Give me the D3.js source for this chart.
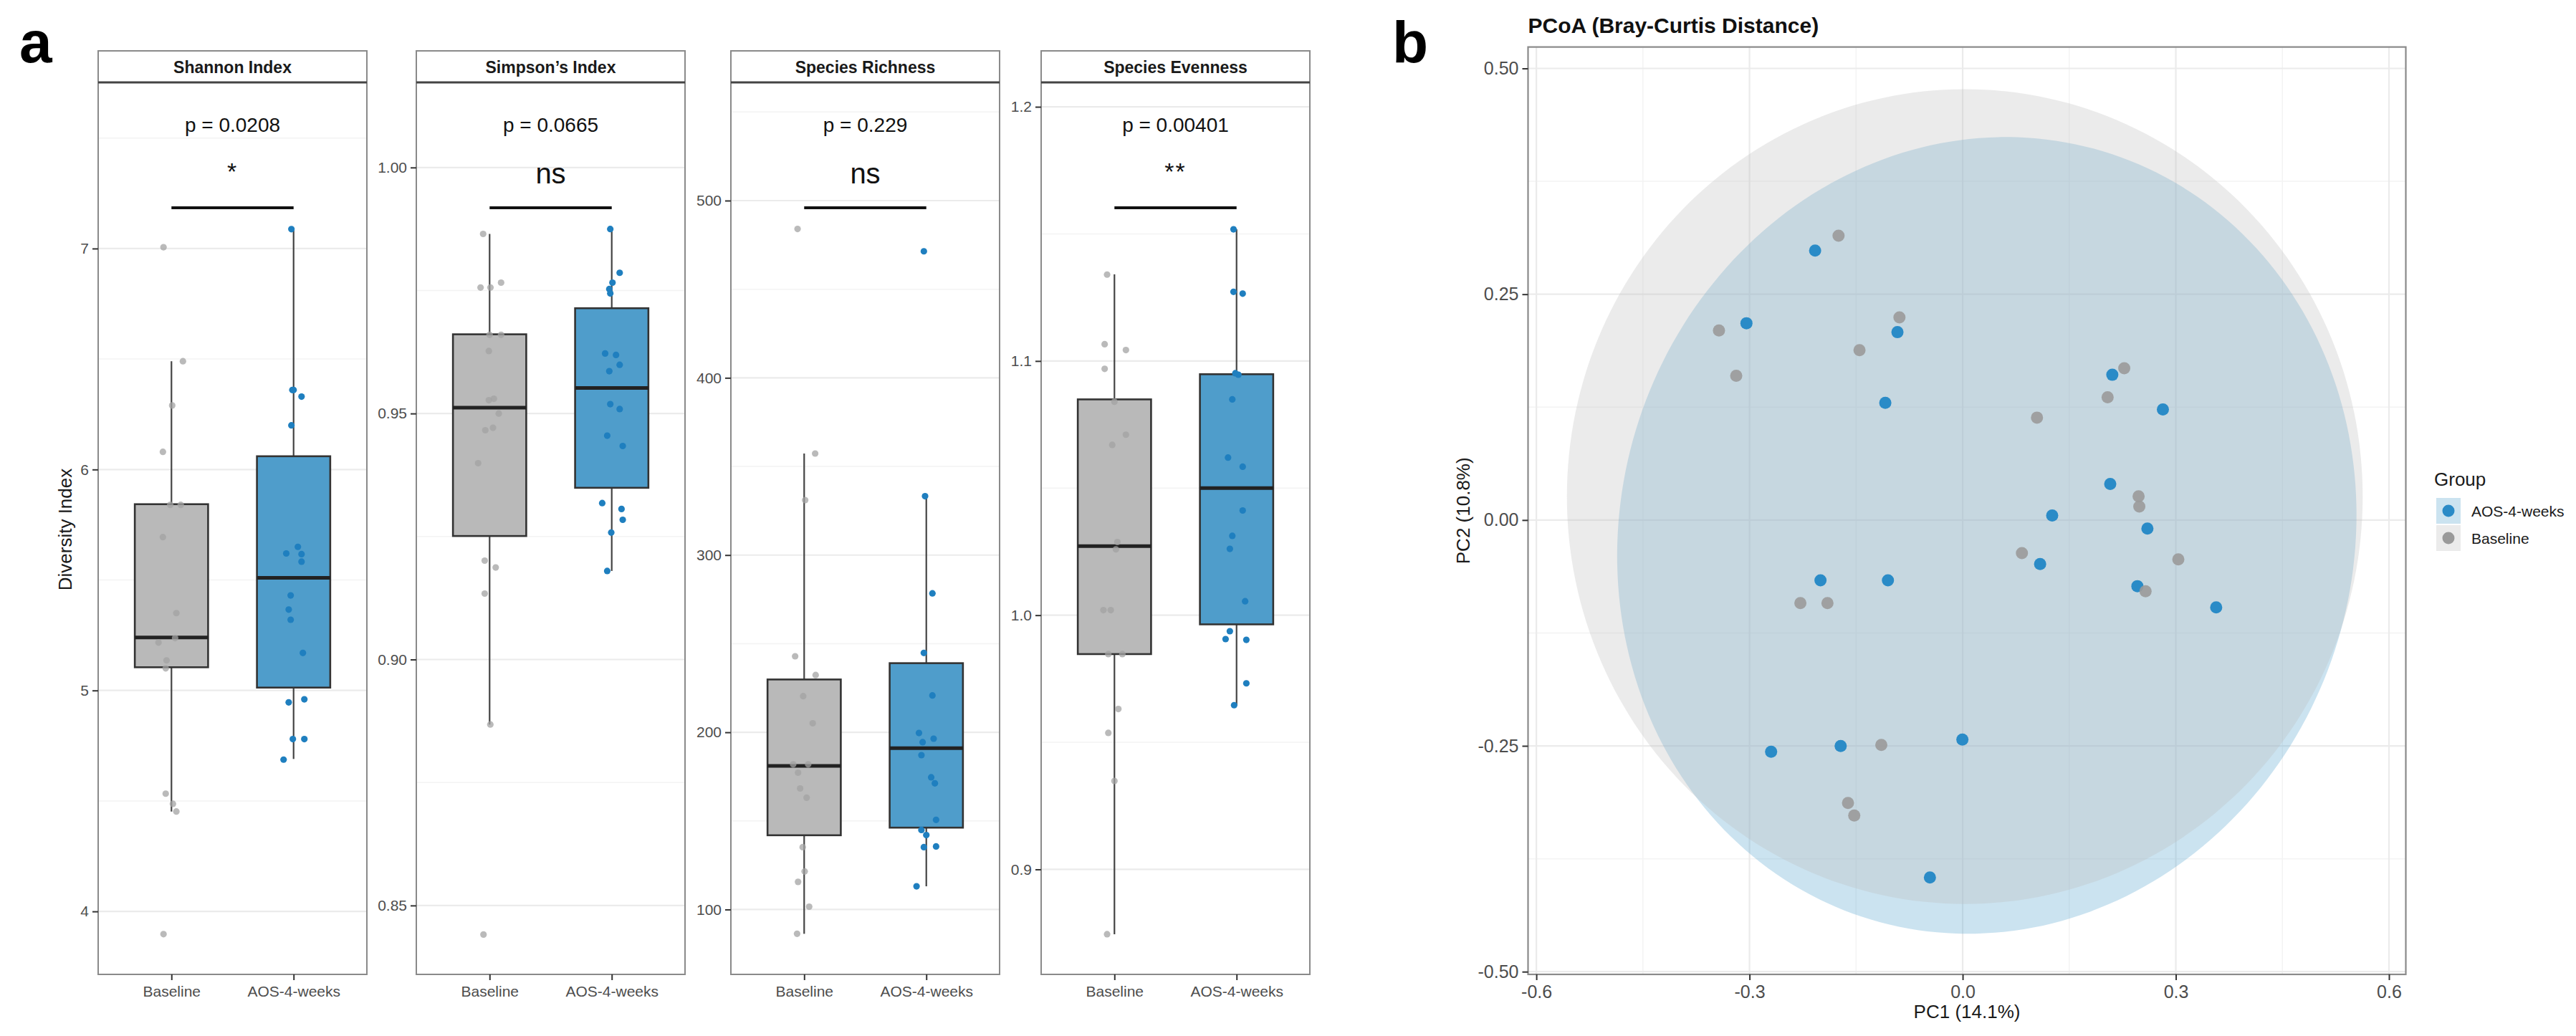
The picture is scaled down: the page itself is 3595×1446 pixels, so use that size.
<!DOCTYPE html>
<html>
<head>
<meta charset="utf-8">
<title>Alpha diversity and PCoA</title>
<script src="https://d3js.org/d3.v7.min.js"></script>
<style>
  body { margin: 0; background: #fff; }
  text { font-family: "Liberation Sans", Arial, sans-serif; }
</style>
</head>
<body>
<div id="chart"></div>
<script>
const width = 3595, height = 1446;

// ---------- panel a data ----------
const groups = ["Baseline", "AOS-4-weeks"];
const metrics = ["Shannon Index", "Simpson\u2019s Index", "Species Richness", "Species Evenness"];
const pLabels = ["p = 0.0208", "p = 0.0665", "p = 0.229", "p = 0.00401"];
const sigLabels = ["*", "ns", "ns", "**"];
const yDomains = [[3.715, 7.752], [0.836, 1.0173], [63.4, 566.7], [0.8587, 1.2096]];
const yTicks = [[4, 5, 6, 7], [0.85, 0.90, 0.95, 1.00], [100, 200, 300, 400, 500], [0.9, 1.0, 1.1, 1.2]];
const yMinor = [[4.5, 5.5, 6.5, 7.5], [0.875, 0.925, 0.975], [150, 250, 350, 450, 550], [0.95, 1.05, 1.15]];
const yDecimals = [0, 2, 0, 1];

// box stats: [lower whisker, q1, median, q3, upper whisker]
const boxBaseline = [
  [4.452, 5.105, 5.24, 5.843, 6.49],
  [0.8868, 0.9251, 0.9512, 0.9661, 0.9865],
  [86.3, 141.9, 181, 229.8, 357.3],
  [0.8745, 0.9847, 1.0272, 1.0849, 1.1341]
];
const boxAOS = [
  [4.69, 5.013, 5.51, 6.06, 7.088],
  [0.918, 0.9349, 0.9552, 0.9714, 0.9875],
  [113.1, 146.2, 191, 239, 333.2],
  [0.9645, 0.9964, 1.05, 1.0948, 1.1518]
];

// sample values and jitter (in category units)
const shannonBase = [7.006, 6.49, 6.29, 6.08, 5.84, 5.84, 5.694, 5.35, 5.237, 5.217, 5.136, 5.10, 4.533, 4.487, 4.452, 3.897];
const shannonBaseJit = [-0.065, 0.094, 0.006, -0.07, 0.076, -0.01, -0.07, 0.04, 0.03, -0.106, -0.04, -0.047, -0.047, 0.012, 0.04, -0.065];
const shannonAOS = [7.088, 6.36, 6.36, 6.33, 6.2, 5.62, 5.65, 5.617, 5.583, 5.43, 5.366, 5.32, 5.17, 4.946, 4.96, 4.78, 4.78, 4.687];
const shannonAOSJit = [-0.018, -0.01, 0, 0.065, -0.018, -0.06, 0.035, 0.065, 0.065, -0.024, -0.04, -0.024, 0.076, -0.04, 0.088, -0.006, 0.088, -0.082];

const simpsonBase = [0.9865, 0.9756, 0.9756, 0.9766, 0.966, 0.966, 0.9627, 0.9527, 0.953, 0.950, 0.9466, 0.9471, 0.9399, 0.9201, 0.9187, 0.9134, 0.8868, 0.8441];
const simpsonBaseJit = [-0.053, -0.074, 0.007, 0.094, 0, 0.094, -0.006, -0.006, 0.035, 0.075, -0.035, 0.028, -0.094, -0.04, 0.05, -0.04, 0.006, -0.05];
const simpsonAOS = [0.9875, 0.9786, 0.9766, 0.9753, 0.9744, 0.9622, 0.9619, 0.9599, 0.9586, 0.9519, 0.9509, 0.9455, 0.9434, 0.9318, 0.9306, 0.9284, 0.9258, 0.918];
const simpsonAOSJit = [-0.012, 0.065, 0.006, -0.02, -0.012, -0.054, 0.035, 0.065, -0.02, -0.012, 0.065, -0.037, 0.09, -0.078, 0.08, 0.09, -0.004, -0.037];

const richBase = [484, 357.3, 331, 242.9, 232.3, 220.4, 205.1, 181.9, 181.9, 177.2, 168.3, 163.1, 135.2, 121.5, 115.6, 101.6, 86.3];
const richBaseJit = [-0.054, 0.09, 0.008, -0.074, 0.094, -0.008, 0.07, -0.09, 0.033, -0.05, -0.033, 0.02, -0.012, 0.004, -0.05, 0.041, -0.058];
const richAOS = [471.4, 333.2, 278.4, 244.8, 220.8, 199.6, 194.4, 196.4, 187.1, 174.6, 171.2, 150.6, 144.9, 142, 135.2, 135.6, 113.1];
const richAOSJit = [-0.02, -0.01, 0.05, -0.02, 0.05, -0.06, -0.03, 0.06, -0.04, 0.04, 0.07, 0.08, -0.04, 0, -0.02, 0.08, -0.08];

const evenBase = [1.134, 1.1066, 1.1043, 1.0969, 1.084, 1.071, 1.067, 1.0288, 1.0259, 1.002, 1.002, 0.9847, 0.9847, 0.9631, 0.9537, 0.9348, 0.8745];
const evenBaseJit = [-0.06, -0.08, 0.094, -0.08, 0, 0.094, -0.018, 0.024, 0.012, -0.09, -0.03, -0.05, 0.065, 0.032, -0.05, 0, -0.06];
const evenAOS = [1.1518, 1.1272, 1.1265, 1.0952, 1.0946, 1.0849, 1.062, 1.0584, 1.0412, 1.0312, 1.0261, 1.0055, 0.9937, 0.9906, 0.9903, 0.9732, 0.9646];
const evenAOSJit = [-0.025, -0.025, 0.05, -0.01, 0.015, -0.035, -0.07, 0.05, 0.05, -0.035, -0.055, 0.07, -0.055, -0.09, 0.08, 0.08, -0.02];

const valuesBase = [shannonBase, simpsonBase, richBase, evenBase];
const jitterBase = [shannonBaseJit, simpsonBaseJit, richBaseJit, evenBaseJit];
const valuesAOS = [shannonAOS, simpsonAOS, richAOS, evenAOS];
const jitterAOS = [shannonAOSJit, simpsonAOSJit, richAOSJit, evenAOSJit];

// ---------- panel b data ----------
const pcoaGroups = ["AOS-4-weeks", "Baseline"];
const pcoaAOS = [
  [-0.2077, 0.2983], [-0.3043, 0.2179], [-0.0918, 0.208], [-0.1089, 0.1298],
  [0.2106, 0.1608], [0.2818, 0.1225], [0.2077, 0.04], [0.126, 0.005],
  [0.26, -0.0094], [0.109, -0.0487], [0.2459, -0.0732], [0.3568, -0.0966],
  [-0.2001, -0.0668], [-0.1052, -0.0668], [-0.2696, -0.2566], [-0.1717, -0.2502],
  [-0.0004, -0.243], [-0.0461, -0.3958]
];
const pcoaBaseline = [
  [-0.1747, 0.3148], [-0.343, 0.2099], [-0.089, 0.2244], [-0.1452, 0.1881],
  [-0.3187, 0.1597], [0.2274, 0.1681], [0.204, 0.136], [0.1046, 0.1134],
  [0.2476, 0.0262], [0.2486, 0.015], [0.0834, -0.0366], [0.3035, -0.0435],
  [0.2574, -0.0789], [-0.2284, -0.092], [-0.1903, -0.092], [-0.1145, -0.249],
  [-0.1614, -0.3132], [-0.1526, -0.3271]
];
// ellipses: [centre PC1, centre PC2, radius PC1, radius PC2, rotation (rad)]
const ellipseAOS = [0.034, -0.017, 0.522, 0.439, 0.15];
const ellipseBaseline = [0.003, 0.026, 0.560, 0.451, 0];
const pcoaXTicks = [-0.6, -0.3, 0.0, 0.3, 0.6];
const pcoaXMinor = [-0.45, -0.15, 0.15, 0.45];
const pcoaYTicks = [-0.50, -0.25, 0.00, 0.25, 0.50];
const pcoaYMinor = [-0.375, -0.125, 0.125, 0.375];

// ---------- colours ----------
const boxFill = { "Baseline": "#b9b9b9", "AOS-4-weeks": "#4f9dcb" };
const dotFill = { "Baseline": "#a3a3a3", "AOS-4-weeks": "#1f7fbf" };
const pcoaDot = { "Baseline": "#9a9a9a", "AOS-4-weeks": "#2a8bc7" };
const ellFill = { "Baseline": "#bcbcbc", "AOS-4-weeks": "#52a2cd" };

const svg = d3.select("#chart")
  .append("svg")
  .attr("width", width)
  .attr("height", height);

svg.append("rect").attr("width", width).attr("height", height).attr("fill", "#fff");

// ---------- panel a ----------
const facetLeft = [137, 581, 1020, 1453];
const facetW = 375;
const stripTop = 71, plotTop = 115, plotBottom = 1360;

svg.append("text")
  .attr("x", 27).attr("y", 87)
  .attr("font-size", 82).attr("font-weight", "bold")
  .text("a");

svg.append("text")
  .attr("transform", "translate(100,739) rotate(-90)")
  .attr("text-anchor", "middle")
  .attr("font-size", 26).attr("fill", "#1a1a1a")
  .text("Diversity Index");

metrics.forEach((m, i) => {
  const g = svg.append("g").attr("transform", `translate(${facetLeft[i]},0)`);

  const x = d3.scalePoint().domain(groups).range([0, facetW]).padding(0.6);
  const y = d3.scaleLinear().domain(yDomains[i]).range([plotBottom, plotTop]);
  const bw = x.step() * 0.6;

  // grid
  g.selectAll(".minor").data(yMinor[i]).enter().append("line")
    .attr("x1", 0).attr("x2", facetW)
    .attr("y1", d => y(d)).attr("y2", d => y(d))
    .attr("stroke", "#f3f3f3").attr("stroke-width", 1.5);
  g.selectAll(".major").data(yTicks[i]).enter().append("line")
    .attr("x1", 0).attr("x2", facetW)
    .attr("y1", d => y(d)).attr("y2", d => y(d))
    .attr("stroke", "#ebebeb").attr("stroke-width", 2.2);

  const boxes = [
    { grp: groups[0], s: boxBaseline[i] },
    { grp: groups[1], s: boxAOS[i] }
  ];

  // whiskers
  boxes.forEach(b => {
    g.append("line")
      .attr("x1", x(b.grp)).attr("x2", x(b.grp))
      .attr("y1", y(b.s[0])).attr("y2", y(b.s[1]))
      .attr("stroke", "#444").attr("stroke-width", 2.2);
    g.append("line")
      .attr("x1", x(b.grp)).attr("x2", x(b.grp))
      .attr("y1", y(b.s[3])).attr("y2", y(b.s[4]))
      .attr("stroke", "#444").attr("stroke-width", 2.2);
  });

  g.selectAll(".box").data(boxes).enter().append("rect")
    .attr("x", d => x(d.grp) - bw / 2)
    .attr("y", d => y(d.s[3]))
    .attr("width", bw)
    .attr("height", d => y(d.s[1]) - y(d.s[3]))
    .attr("fill", d => boxFill[d.grp])
    .attr("stroke", "#333").attr("stroke-width", 2.6);

  g.selectAll(".median").data(boxes).enter().append("line")
    .attr("x1", d => x(d.grp) - bw / 2).attr("x2", d => x(d.grp) + bw / 2)
    .attr("y1", d => y(d.s[2])).attr("y2", d => y(d.s[2]))
    .attr("stroke", "#222").attr("stroke-width", 5);

  // jittered points
  const pts = valuesBase[i].map((v, k) => ({ grp: groups[0], v: v, j: jitterBase[i][k] }))
    .concat(valuesAOS[i].map((v, k) => ({ grp: groups[1], v: v, j: jitterAOS[i][k] })));
  g.selectAll(".pt").data(pts).enter().append("circle")
    .attr("cx", d => x(d.grp) + d.j * x.step())
    .attr("cy", d => y(d.v))
    .attr("r", 4.6)
    .attr("fill", d => dotFill[d.grp])
    .attr("fill-opacity", d => d.grp === "Baseline" ? 0.75 : 1);

  // panel border
  g.append("rect")
    .attr("x", 0).attr("y", plotTop)
    .attr("width", facetW).attr("height", plotBottom - plotTop)
    .attr("fill", "none").attr("stroke", "#8a8a8a").attr("stroke-width", 2);

  // strip
  g.append("rect")
    .attr("x", 0).attr("y", stripTop)
    .attr("width", facetW).attr("height", plotTop - stripTop)
    .attr("fill", "#fff").attr("stroke", "#8a8a8a").attr("stroke-width", 2);
  g.append("line")
    .attr("x1", 0).attr("x2", facetW).attr("y1", plotTop).attr("y2", plotTop)
    .attr("stroke", "#444").attr("stroke-width", 3);
  g.append("text")
    .attr("x", facetW / 2).attr("y", 102)
    .attr("text-anchor", "middle")
    .attr("font-size", 23).attr("font-weight", "bold").attr("fill", "#1a1a1a")
    .text(m);

  // axes
  const yAxis = g.append("g")
    .call(d3.axisLeft(y).tickValues(yTicks[i])
      .tickFormat(d => d.toFixed(yDecimals[i])).tickSize(8).tickPadding(5));
  const xAxis = g.append("g")
    .attr("transform", `translate(0,${plotBottom})`)
    .call(d3.axisBottom(x).tickSize(8).tickPadding(8));
  [yAxis, xAxis].forEach(a => {
    a.select(".domain").remove();
    a.selectAll(".tick line").attr("stroke", "#333").attr("stroke-width", 2);
    a.selectAll(".tick text")
      .attr("font-family", "'Liberation Sans', Arial, sans-serif")
      .attr("font-size", 21).attr("fill", "#4d4d4d");
  });

  // comparison annotation
  g.append("text")
    .attr("x", facetW / 2).attr("y", 184)
    .attr("text-anchor", "middle")
    .attr("font-size", 28).attr("fill", "#111")
    .text(pLabels[i]);
  const isStar = sigLabels[i] !== "ns";
  g.append("text")
    .attr("x", facetW / 2).attr("y", isStar ? 251 : 256)
    .attr("text-anchor", "middle")
    .attr("font-size", isStar ? 34 : 40)
    .attr("letter-spacing", isStar ? 2 : 0)
    .attr("fill", "#111")
    .text(sigLabels[i]);
  g.append("line")
    .attr("x1", x(groups[0])).attr("x2", x(groups[1]))
    .attr("y1", 290).attr("y2", 290)
    .attr("stroke", "#111").attr("stroke-width", 4);
});

// ---------- panel b ----------
const pLeft = 2132.5, pRight = 3357.5, pTop = 65.6, pBottom = 1360;
const xP = d3.scaleLinear().domain([-0.6117, 0.6237]).range([pLeft, pRight]);
const yP = d3.scaleLinear().domain([-0.503, 0.5237]).range([pBottom, pTop]);

svg.append("text")
  .attr("x", 1943).attr("y", 87)
  .attr("font-size", 82).attr("font-weight", "bold")
  .text("b");

svg.append("text")
  .attr("x", pLeft).attr("y", 46)
  .attr("font-size", 30).attr("font-weight", "bold").attr("fill", "#111")
  .text("PCoA (Bray-Curtis Distance)");

const gb = svg.append("g");

gb.selectAll(".vminor").data(pcoaXMinor).enter().append("line")
  .attr("x1", d => xP(d)).attr("x2", d => xP(d)).attr("y1", pTop).attr("y2", pBottom)
  .attr("stroke", "#f3f3f3").attr("stroke-width", 1.5);
gb.selectAll(".hminor").data(pcoaYMinor).enter().append("line")
  .attr("y1", d => yP(d)).attr("y2", d => yP(d)).attr("x1", pLeft).attr("x2", pRight)
  .attr("stroke", "#f3f3f3").attr("stroke-width", 1.5);
gb.selectAll(".vmajor").data(pcoaXTicks).enter().append("line")
  .attr("x1", d => xP(d)).attr("x2", d => xP(d)).attr("y1", pTop).attr("y2", pBottom)
  .attr("stroke", "#ebebeb").attr("stroke-width", 2.2);
gb.selectAll(".hmajor").data(pcoaYTicks).enter().append("line")
  .attr("y1", d => yP(d)).attr("y2", d => yP(d)).attr("x1", pLeft).attr("x2", pRight)
  .attr("stroke", "#ebebeb").attr("stroke-width", 2.2);

// confidence ellipses
function ellipsePoints(e) {
  const [cx, cy, rx, ry, a] = e;
  return d3.range(0, 360, 3).map(deg => {
    const t = deg * Math.PI / 180;
    const ex = rx * Math.cos(t), ey = ry * Math.sin(t);
    return [cx + ex * Math.cos(a) - ey * Math.sin(a), cy + ex * Math.sin(a) + ey * Math.cos(a)];
  });
}
const ellLine = d3.line().x(d => xP(d[0])).y(d => yP(d[1])).curve(d3.curveCardinalClosed);
[["AOS-4-weeks", ellipseAOS], ["Baseline", ellipseBaseline]].forEach(([grp, e]) => {
  gb.append("path")
    .attr("d", ellLine(ellipsePoints(e)))
    .attr("fill", ellFill[grp]).attr("fill-opacity", 0.3);
});

const pcoaPts = pcoaAOS.map(p => ({ grp: "AOS-4-weeks", p: p }))
  .concat(pcoaBaseline.map(p => ({ grp: "Baseline", p: p })));
gb.selectAll(".pc").data(pcoaPts).enter().append("circle")
  .attr("cx", d => xP(d.p[0])).attr("cy", d => yP(d.p[1]))
  .attr("r", 8.5)
  .attr("fill", d => pcoaDot[d.grp])
  .attr("fill-opacity", d => d.grp === "Baseline" ? 0.9 : 1);

gb.append("rect")
  .attr("x", pLeft).attr("y", pTop)
  .attr("width", pRight - pLeft).attr("height", pBottom - pTop)
  .attr("fill", "none").attr("stroke", "#8a8a8a").attr("stroke-width", 2.2);

const fmt2 = d => d.toFixed(2);
const fmt1 = d => d.toFixed(1);
const ayP = gb.append("g").attr("transform", `translate(${pLeft},0)`)
  .call(d3.axisLeft(yP).tickValues(pcoaYTicks).tickFormat(fmt2).tickSize(8).tickPadding(5));
const axP = gb.append("g").attr("transform", `translate(0,${pBottom})`)
  .call(d3.axisBottom(xP).tickValues(pcoaXTicks).tickFormat(fmt1).tickSize(8).tickPadding(7));
[ayP, axP].forEach(a => {
  a.select(".domain").remove();
  a.selectAll(".tick line").attr("stroke", "#333").attr("stroke-width", 2);
  a.selectAll(".tick text")
    .attr("font-family", "'Liberation Sans', Arial, sans-serif")
    .attr("font-size", 25).attr("fill", "#4d4d4d");
});

svg.append("text")
  .attr("x", (pLeft + pRight) / 2).attr("y", 1421)
  .attr("text-anchor", "middle")
  .attr("font-size", 26).attr("fill", "#1a1a1a")
  .text("PC1 (14.1%)");
svg.append("text")
  .attr("transform", `translate(2051,${(pTop + pBottom) / 2}) rotate(-90)`)
  .attr("text-anchor", "middle")
  .attr("font-size", 26).attr("fill", "#1a1a1a")
  .text("PC2 (10.8%)");

// legend
const lg = svg.append("g").attr("transform", "translate(3400,0)");
lg.append("text")
  .attr("x", -3).attr("y", 678)
  .attr("font-size", 26).attr("fill", "#1a1a1a")
  .text("Group");
const keyH = 38;
pcoaGroups.forEach((grp, k) => {
  const ky = 695 + k * keyH;
  lg.append("rect")
    .attr("x", 0).attr("y", ky).attr("width", 34).attr("height", keyH - 2)
    .attr("fill", ellFill[grp]).attr("fill-opacity", 0.3);
  lg.append("circle")
    .attr("cx", 17).attr("cy", ky + (keyH - 2) / 2).attr("r", 8.5)
    .attr("fill", pcoaDot[grp]);
  lg.append("text")
    .attr("x", 49).attr("y", ky + (keyH - 2) / 2)
    .attr("dominant-baseline", "central")
    .attr("font-size", 21).attr("fill", "#1a1a1a")
    .text(grp);
});
</script>
</body>
</html>
